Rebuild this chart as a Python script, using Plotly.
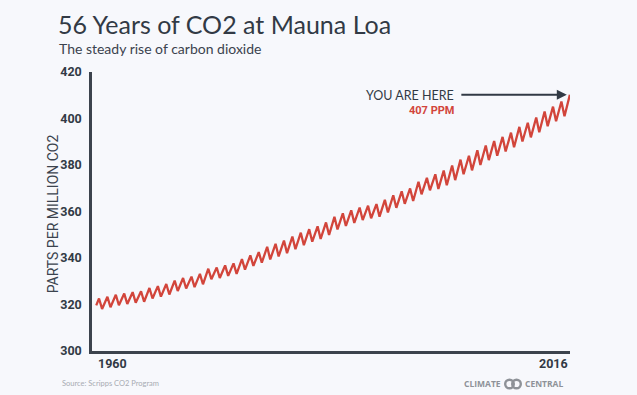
import plotly.graph_objects as go

# ---- data ----
years = list(range(1960, 2017))
# seasonal maxima (around May) for each year, ppm
peak_ppm = [
    322.6, 323.3, 324.2, 324.7, 325.3, 325.7, 327.1, 327.9, 328.8, 330.3,
    331.4, 332.0, 333.2, 335.4, 335.9, 336.8, 337.7, 339.5, 341.1, 342.5,
    344.8, 346.1, 347.5, 349.2, 350.9, 352.4, 353.6, 355.3, 357.7, 359.2,
    360.5, 361.7, 362.5, 363.2, 365.0, 367.0, 368.7, 369.9, 372.8, 374.5,
    376.0, 377.6, 379.8, 382.3, 384.0, 386.3, 388.4, 390.3, 392.1, 393.9,
    396.4, 398.2, 400.4, 403.0, 405.1, 407.3, 410.2,
]
# seasonal minima (around late September) for 1960-2015, ppm
trough_ppm = [
    318.1, 318.8, 319.7, 320.2, 320.8, 321.2, 322.6, 323.4, 324.3, 325.8,
    326.9, 327.5, 328.7, 330.9, 331.4, 332.3, 333.2, 335.0, 336.6, 338.0,
    339.4, 340.7, 342.1, 343.8, 345.5, 347.0, 348.2, 349.9, 352.3, 353.8,
    355.1, 356.3, 357.1, 357.8, 359.6, 361.6, 363.3, 364.5, 367.4, 369.1,
    369.7, 371.3, 373.5, 376.0, 377.7, 380.0, 382.1, 384.0, 385.8, 387.6,
    390.1, 391.9, 394.1, 396.7, 398.8, 401.0,
]
start_date = "1960-01-15"
start_ppm = 319.6
peak_day = "05-15"
trough_day = "09-25"

y_ticks = [300, 320, 340, 360, 380, 400, 420]
x_labels = ["1960", "2016"]
title = "56 Years of CO2 at Mauna Loa"
subtitle = "The steady rise of carbon dioxide"
y_title = "PARTS PER MILLION CO2"
here_text = "YOU ARE HERE"
here_value = "407 PPM"
source = "Source: Scripps CO2 Program"

# ---- build series ----
xs = [start_date]
ys = [start_ppm]
for i, yr in enumerate(years):
    xs.append(f"{yr}-{peak_day}")
    ys.append(peak_ppm[i])
    if i < len(trough_ppm):
        xs.append(f"{yr}-{trough_day}")
        ys.append(trough_ppm[i])

BG = "#f7f8fc"
DARK = "#323a45"
RED = "#d2453b"
GREY = "#a7abb2"
LOGO = "#8e9298"
COND = "Roboto, sans-serif"

W, H = 637, 395
ML, MR, MT, MB = 92, 67, 72, 44
PW, PH = W - ML - MR, H - MT - MB

fig = go.Figure()
fig.add_trace(go.Scatter(
    x=xs, y=ys, mode="lines",
    line=dict(color=RED, width=2.3),
    hoverinfo="skip", showlegend=False,
))

def px_x(p):
    return (p - ML) / PW

def px_y(p):
    return (H - MB - p) / PH

annotations = [
    dict(text=title, xref="paper", yref="paper", x=px_x(56), y=px_y(24),
         xanchor="left", yanchor="middle", showarrow=False,
         font=dict(family="Lato, sans-serif", size=25, color=DARK)),
    dict(text=subtitle, xref="paper", yref="paper", x=px_x(57), y=px_y(48),
         xanchor="left", yanchor="middle", showarrow=False,
         font=dict(family="Lato, sans-serif", size=14, color="#3b434e")),
    dict(text=y_title, xref="paper", yref="paper", x=px_x(53), y=0.49,
         xanchor="center", yanchor="middle", textangle=-90, showarrow=False,
         font=dict(family=COND, size=14, color="#3b434e")),
    # x labels at both ends of the series
    dict(text=f"<b>{x_labels[0]}</b>", xref="x", yref="paper", x=xs[0], y=0,
         xanchor="left", yanchor="top", yshift=-3, showarrow=False,
         font=dict(family=COND, size=12.5, color=DARK)),
    dict(text=f"<b>{x_labels[1]}</b>", xref="x", yref="paper", x=xs[-1], y=0,
         xanchor="right", yanchor="top", yshift=-3, showarrow=False,
         font=dict(family=COND, size=12.5, color=DARK)),
    # arrow to the latest value
    dict(text="", xref="x", yref="y", x=xs[-1], y=ys[-1],
         ax=-110, ay=0, showarrow=True, arrowhead=2, arrowsize=1,
         arrowwidth=2, arrowcolor=DARK, standoff=3),
    dict(text=here_text, xref="x", yref="y", x=xs[-1], y=ys[-1],
         xanchor="right", yanchor="middle", xshift=-114, yshift=-1,
         showarrow=False,
         font=dict(family="Lato, sans-serif", size=12.5, color=DARK)),
    dict(text=f"<b>{here_value}</b>", xref="x", yref="y", x=xs[-1], y=ys[-1],
         xanchor="right", yanchor="middle", xshift=-114, yshift=-16,
         showarrow=False,
         font=dict(family=COND, size=11, color=RED)),
    dict(text=source, xref="paper", yref="paper", x=px_x(60), y=px_y(384),
         xanchor="left", yanchor="middle", showarrow=False,
         font=dict(family="Lato, sans-serif", size=7.5, color=GREY)),
    dict(text="<b>CLIMATE</b>", xref="paper", yref="paper", x=px_x(503), y=px_y(384),
         xanchor="right", yanchor="middle", showarrow=False,
         font=dict(family="Open Sans, sans-serif", size=8.5, color=LOGO)),
    dict(text="<b>CENTRAL</b>", xref="paper", yref="paper", x=px_x(523), y=px_y(384),
         xanchor="left", yanchor="middle", showarrow=False,
         font=dict(family="Open Sans, sans-serif", size=8.5, color=LOGO)),
]

shapes = []
for cx in (509.5, 516.5):
    r = 4.3
    shapes.append(dict(type="circle", xref="paper", yref="paper",
                       x0=px_x(cx - r), x1=px_x(cx + r),
                       y0=px_y(384 + r), y1=px_y(384 - r),
                       line=dict(color=LOGO, width=2.4)))

fig.update_layout(
    width=W, height=H,
    margin=dict(l=ML, r=MR, t=MT, b=MB, pad=0),
    paper_bgcolor=BG, plot_bgcolor=BG,
    showlegend=False,
    annotations=annotations,
    shapes=shapes,
    xaxis=dict(
        type="date",
        range=["1959-07-15", "2016-05-22"],
        showgrid=False, zeroline=False,
        showticklabels=False, ticks="",
        showline=True, linecolor="#3c434d", linewidth=2.5,
    ),
    yaxis=dict(
        range=[300, 420],
        tickvals=y_ticks,
        ticktext=[f"<b>{v}</b>" for v in y_ticks],
        showgrid=False, zeroline=False,
        ticks="outside", ticklen=5, tickcolor=BG,
        showline=True, linecolor="#3c434d", linewidth=2.5,
        tickfont=dict(family=COND, size=12.5, color=DARK),
    ),
)

fig.write_html(
    "out.html",
    config={"displayModeBar": False},
    post_script="document.body.style.margin='0';document.body.style.background='%s';" % BG,
)
